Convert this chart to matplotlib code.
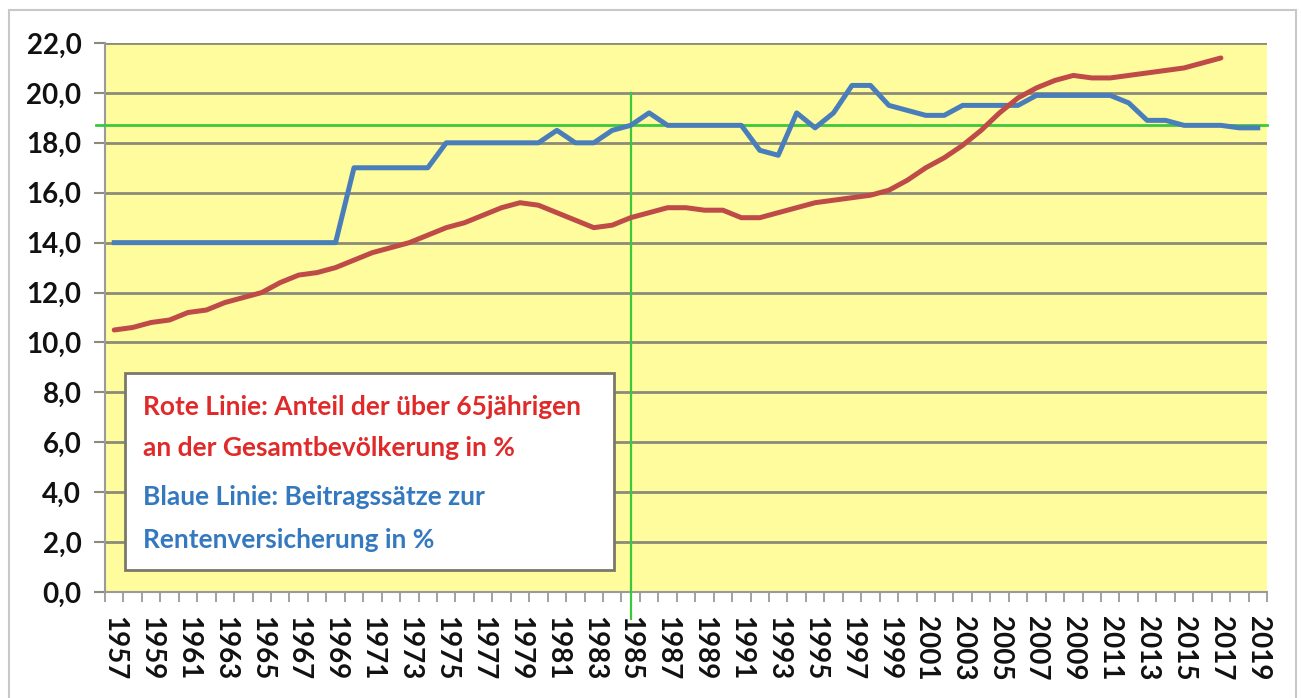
import matplotlib
matplotlib.use('Agg')
import matplotlib.pyplot as plt
from matplotlib.patches import Rectangle

# years on the category axis
years = list(range(1957, 2020))

# blue line: Beitragssaetze zur Rentenversicherung in %
beitrag = [14.0] * 13 + [17.0] * 5 + [18.0] * 6 + \
          [18.5, 18.0, 18.0, 18.5, 18.7, 19.2] + [18.7] * 5 + \
          [17.7, 17.5, 19.2, 18.6, 19.2, 20.3, 20.3, 19.5, 19.3, 19.1,
           19.1, 19.5, 19.5, 19.5, 19.5] + [19.9] * 5 + \
          [19.6, 18.9, 18.9, 18.7, 18.7, 18.7, 18.6, 18.6]

# red line: Anteil der ueber 65jaehrigen (1957-2017)
anteil65 = [10.5, 10.6, 10.8, 10.9, 11.2, 11.3, 11.6, 11.8, 12.0, 12.4,
            12.7, 12.8, 13.0, 13.3, 13.6, 13.8, 14.0, 14.3, 14.6, 14.8,
            15.1, 15.4, 15.6, 15.5, 15.2, 14.9, 14.6, 14.7, 15.0, 15.2,
            15.4, 15.4, 15.3, 15.3, 15.0, 15.0, 15.2, 15.4, 15.6, 15.7,
            15.8, 15.9, 16.1, 16.5, 17.0, 17.4, 17.9, 18.5, 19.2, 19.8,
            20.2, 20.5, 20.7, 20.6, 20.6, 20.7, 20.8, 20.9, 21.0, 21.2,
            21.4]

ref_level = 18.7      # green horizontal line
ref_year = 1985       # green vertical line
yticks = list(range(0, 23, 2))

W, H = 1301, 698
fig = plt.figure(figsize=(W / 100, H / 100), dpi=100)
fig.patch.set_facecolor('white')

# light grey frame round the whole chart
fig.patches.append(Rectangle((9 / W, -0.02), (1296 - 9) / W, 1 - 10 / H + 0.02,
                             transform=fig.transFigure, fill=False,
                             edgecolor='#c8c8c8', lw=1.5))

ax = fig.add_axes([105 / W, 1 - 592 / H, (1267 - 105) / W, (592 - 43) / H])
ax.set_facecolor('#fefc9c')

grid_col = '#8c8a78'
xs = list(range(len(years)))

ax.set_xlim(-0.5, len(years) - 0.5)
ax.set_ylim(0, 22)
ax.set_yticks(yticks)
ax.set_yticklabels(['%d,0' % v for v in yticks])
ax.yaxis.grid(True, color=grid_col, lw=2, zorder=0)
ax.set_axisbelow(True)

for s in ['top', 'right']:
    ax.spines[s].set_visible(False)
ax.spines['left'].set_color('#9a9a9a')
ax.spines['bottom'].set_color('#9a9a9a')
ax.spines['left'].set_linewidth(1.5)
ax.spines['bottom'].set_linewidth(1.5)

ax.tick_params(axis='y', length=8, width=1.5, color=grid_col, pad=9,
               labelsize=20)
lab_idx = xs[::2]
ax.set_xticks(lab_idx)
ax.set_xticklabels([str(years[i]) for i in lab_idx], rotation=270)
ax.set_xticks([i - 0.5 for i in xs] + [len(years) - 0.5], minor=True)
ax.tick_params(axis='x', which='major', length=0, pad=17, labelsize=20)
ax.tick_params(axis='x', which='minor', length=7, width=1.3, color='#9a9a9a')
for t in ax.get_xticklabels() + ax.get_yticklabels():
    t.set_fontfamily(['Lato', 'DejaVu Sans'])
    t.set_fontweight('bold')
    t.set_color('#111111')

# reference lines
ax.plot([-1.0, len(years) - 0.5], [ref_level, ref_level], color='#3cc83c',
        lw=2, clip_on=False, zorder=3)
xi = years.index(ref_year)
ax.plot([xi, xi], [-1.1, 20], color='#3cc83c', lw=1.6, clip_on=False, zorder=3)

ax.plot(xs, beitrag, color='#4a7ebb', lw=3.6, zorder=4, solid_joinstyle='round')
ax.plot(xs[:len(anteil65)], anteil65, color='#be4b48', lw=3.6, zorder=5,
        solid_capstyle='round', solid_joinstyle='round')

# text box
ax.add_patch(Rectangle((0.0172, 0.040), 0.421, 0.359, transform=ax.transAxes,
                       facecolor='white', edgecolor='#7a7868', lw=2, zorder=6))
red_txt = '#e02a2a'
blue_txt = '#3479bf'
box_lines = [
    ('Rote Linie: Anteil der über 65jährigen', 0.337, red_txt),
    ('an der Gesamtbevölkerung in %', 0.262, red_txt),
    ('Blaue Linie: Beitragssätze zur', 0.173, blue_txt),
    ('Rentenversicherung in %', 0.095, blue_txt),
]
for txt, yy, col in box_lines:
    ax.text(0.0327, yy, txt, transform=ax.transAxes, color=col, fontsize=19,
            fontweight='bold', family=['Lato', 'DejaVu Sans'], va='center',
            ha='left', zorder=7)

fig.savefig('out.png', dpi=100)
